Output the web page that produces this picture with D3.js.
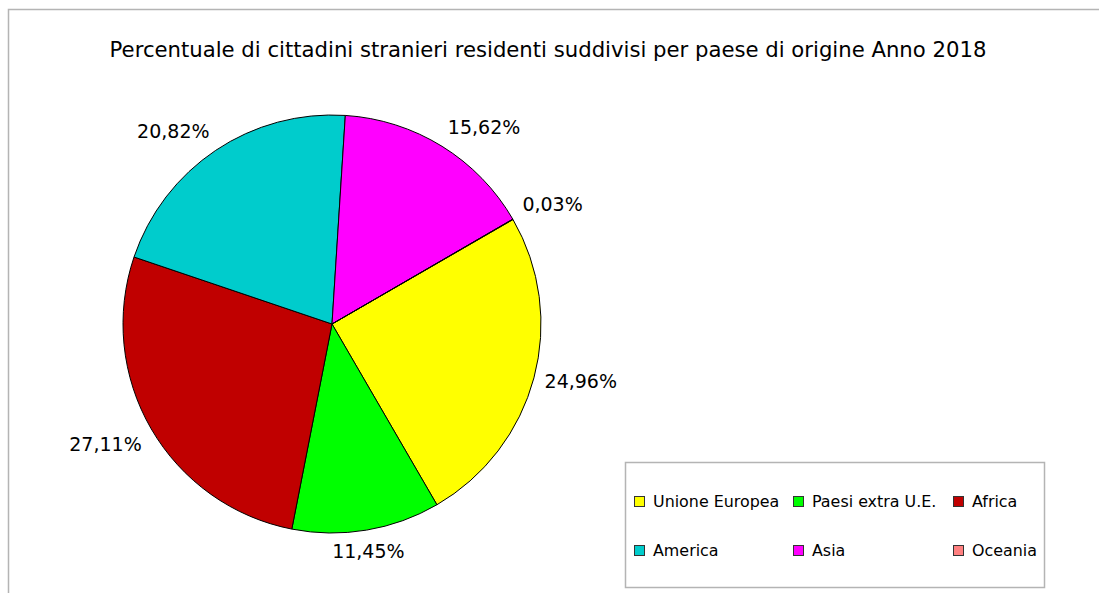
<!DOCTYPE html>
<html>
<head>
<meta charset="utf-8">
<script src="https://cdn.jsdelivr.net/npm/d3@7"></script>
<style>
  body { margin: 0; background: #fff; }
  svg { display: block; font-family: "DejaVu Sans", Verdana, sans-serif; }
</style>
</head>
<body>
<svg id="chart"></svg>
<script>
const width = 1099, height = 593;

const title = "Percentuale di cittadini stranieri residenti suddivisi per paese di origine Anno 2018";
const categories = ["Unione Europea", "Paesi extra U.E.", "Africa", "America", "Asia", "Oceania"];
const values = [24.96, 11.45, 27.11, 20.82, 15.62, 0.03];
const colors = ["#ffff00", "#00ff00", "#c00000", "#00cccc", "#ff00ff", "#ff8080"];

const cx = 332, cy = 324, radius = 209;
const startAngle = 60 * Math.PI / 180;

const svg = d3.select("#chart")
    .attr("width", width)
    .attr("height", height);

// chart frame (only top and left visible)
svg.append("path")
    .attr("d", `M8.5,${height} V9.5 H${width}`)
    .attr("fill", "none")
    .attr("stroke", "#b4b4b4")
    .attr("stroke-width", 1.5);

svg.append("text")
    .attr("x", 548)
    .attr("y", 57)
    .attr("text-anchor", "middle")
    .style("font-size", "21.2px")
    .style("fill", "#000")
    .text(title);

const pie = d3.pie()
    .sort(null)
    .value(d => d)
    .startAngle(startAngle)
    .endAngle(startAngle + 2 * Math.PI);

const arcs = pie(values);

const arc = d3.arc()
    .innerRadius(0)
    .outerRadius(radius);

const g = svg.append("g")
    .attr("transform", `translate(${cx},${cy})`);

g.selectAll("path")
    .data(arcs)
    .enter().append("path")
    .attr("d", arc)
    .attr("fill", (d, i) => colors[i])
    .attr("stroke", "#000")
    .attr("stroke-width", 1)
    .attr("stroke-linejoin", "round");

// labels outside: box anchored (corner / edge) on the mid-angle ray
const fmt = v => v.toFixed(2).replace(".", ",") + "%";
const labelR = radius + 11;
g.selectAll("text.lbl")
    .data(arcs)
    .enter().append("text")
    .attr("class", "lbl")
    .attr("text-anchor", "middle")
    .attr("dominant-baseline", "central")
    .style("font-size", "19px")
    .style("fill", "#000")
    .text(d => fmt(d.data))
    .each(function(d) {
      const a = (d.startAngle + d.endAngle) / 2;
      const w = this.getComputedTextLength();
      const h = 20;
      const oct = Math.round(a / (Math.PI / 4)) * Math.PI / 4;
      const ox = Math.round(Math.sin(oct)), oy = Math.round(-Math.cos(oct));
      const x = labelR * Math.sin(a) + ox * w / 2;
      const y = -labelR * Math.cos(a) + oy * h / 2;
      d3.select(this).attr("x", x).attr("y", y);
    });

// legend
const legend = svg.append("g");
legend.append("rect")
    .attr("x", 625.5)
    .attr("y", 462.5)
    .attr("width", 419)
    .attr("height", 125)
    .attr("fill", "#fff")
    .attr("stroke", "#b4b4b4")
    .attr("stroke-width", 1.5);

const colX = d3.scaleOrdinal().domain([0, 1, 2]).range([634, 793, 953]);
const rowY = d3.scaleOrdinal().domain([0, 1]).range([501, 550]);

const items = legend.selectAll("g.item")
    .data(categories)
    .enter().append("g")
    .attr("class", "item")
    .attr("transform", (d, i) => `translate(${colX(i % 3)},${rowY(Math.floor(i / 3))})`);

items.append("rect")
    .attr("x", 0.5)
    .attr("y", -4.5)
    .attr("width", 10)
    .attr("height", 10)
    .attr("fill", (d, i) => colors[i])
    .attr("stroke", "#333")
    .attr("stroke-width", 1);

items.append("text")
    .attr("x", 19)
    .attr("y", 0)
    .attr("dominant-baseline", "central")
    .style("font-size", "15.9px")
    .style("fill", "#000")
    .text(d => d);
</script>
</body>
</html>
